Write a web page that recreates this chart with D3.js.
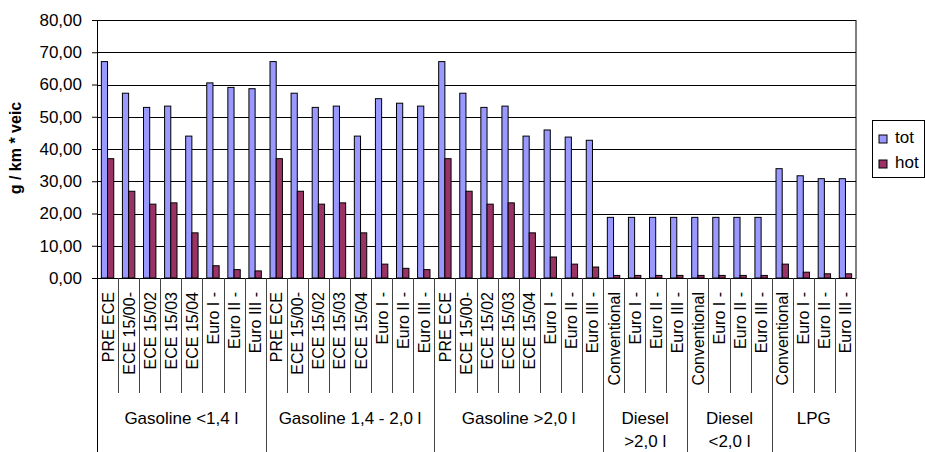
<!DOCTYPE html>
<html>
<head>
<meta charset="utf-8">
<script src="https://cdn.jsdelivr.net/npm/d3@7"></script>
<style>
  body { margin: 0; background: #fff; }
  text { font-family: "Liberation Sans", Arial, sans-serif; fill: #000; }
</style>
</head>
<body>
<div id="chart"></div>
<script>
// groups along the x axis (label lines) and their sub categories
var groupLabels = [["Gasoline <1,4 l"], ["Gasoline 1,4 - 2,0 l"], ["Gasoline >2,0 l"],
                   ["Diesel", ">2,0 l"], ["Diesel", "<2,0 l"], ["LPG"]];
var gasolineSubs = ["PRE ECE", "ECE 15/00-", "ECE 15/02", "ECE 15/03", "ECE 15/04", "Euro I -", "Euro II -", "Euro III -"];
var dieselSubs = ["Conventional", "Euro I -", "Euro II -", "Euro III -"];
var subLabels = [gasolineSubs, gasolineSubs, gasolineSubs, dieselSubs, dieselSubs, dieselSubs];

var seriesNames = ["tot", "hot"];
var seriesColors = ["#9999ff", "#993366"];

var totValues = [67.1, 57.3, 52.9, 53.3, 44.0, 60.5, 59.1, 58.7,
                 67.1, 57.3, 52.9, 53.3, 44.0, 55.6, 54.2, 53.3,
                 67.1, 57.3, 52.9, 53.3, 44.0, 45.9, 43.7, 42.7,
                 18.8, 18.8, 18.8, 18.8,
                 18.8, 18.8, 18.8, 18.8,
                 33.9, 31.7, 30.8, 30.8];
var hotValues = [37.0, 26.9, 22.9, 23.3, 14.0, 3.8, 2.6, 2.2,
                 37.0, 26.9, 22.9, 23.3, 14.0, 4.3, 3.0, 2.6,
                 37.0, 26.9, 22.9, 23.3, 14.0, 6.5, 4.3, 3.4,
                 0.8, 0.8, 0.8, 0.8,
                 0.8, 0.8, 0.8, 0.8,
                 4.3, 1.8, 1.3, 1.3];
var yTicks = [0, 10, 20, 30, 40, 50, 60, 70, 80];
var yTitle = "g / km * veic";

var margin = {top: 20, left: 97},
    width = 759,
    height = 258;

var svg = d3.select("#chart").append("svg")
    .attr("width", 925)
    .attr("height", 452);

var g = svg.append("g")
    .attr("transform", "translate(" + margin.left + "," + margin.top + ")");

// build the flat list of categories
var cats = [];
subLabels.forEach(function(subs, gi) {
    subs.forEach(function(s) {
        cats.push({group: gi, label: s, idx: cats.length});
    });
});
cats.forEach(function(c, i) { c.tot = totValues[i]; c.hot = hotValues[i]; });

var x = d3.scaleBand()
    .domain(cats.map(function(d) { return d.idx; }))
    .range([0, width])
    .padding(0);

var x1 = d3.scaleBand()
    .domain(seriesNames)
    .range([0, x.bandwidth()])
    .paddingInner(0)
    .paddingOuter(0.7);

var y = d3.scaleLinear()
    .domain([0, 80])
    .range([height, 0]);

// grid lines
g.append("g")
    .selectAll("line")
    .data(yTicks)
    .enter()
    .append("line")
    .attr("x1", 0)
    .attr("x2", width)
    .attr("y1", function(d) { return Math.round(y(d)) + 0.5; })
    .attr("y2", function(d) { return Math.round(y(d)) + 0.5; })
    .attr("stroke", "#000")
    .attr("stroke-width", 1);

// y axis
var yAxis = g.append("g")
    .call(d3.axisLeft(y)
        .tickValues(yTicks)
        .tickSize(5)
        .tickPadding(10)
        .tickFormat(function(d) { return d3.format(".2f")(d).replace(".", ","); }));
yAxis.select(".domain").remove();
yAxis.selectAll("line").attr("stroke", "#000");
yAxis.selectAll("text")
    .attr("font-size", "17px")
    .attr("font-family", "Liberation Sans, Arial, sans-serif")
    .attr("fill", "#000");

// y title
svg.append("text")
    .attr("transform", "translate(21,148) rotate(-90)")
    .attr("text-anchor", "middle")
    .attr("font-weight", "bold")
    .attr("font-size", "16px")
    .text(yTitle);

// bars
var catG = g.append("g")
    .selectAll("g")
    .data(cats)
    .enter()
    .append("g")
    .attr("transform", function(d) { return "translate(" + x(d.idx) + ",0)"; });

catG.selectAll("rect")
    .data(function(d) { return seriesNames.map(function(s) { return {key: s, value: d[s]}; }); })
    .enter()
    .append("rect")
    .attr("x", function(d) { return x1(d.key); })
    .attr("y", function(d) { return y(d.value); })
    .attr("width", x1.bandwidth())
    .attr("height", function(d) { return height - y(d.value); })
    .attr("fill", function(d) { return seriesColors[seriesNames.indexOf(d.key)]; })
    .attr("stroke", "#000")
    .attr("stroke-width", 1);

// plot border (left / right / top)
g.append("rect")
    .attr("x", 0.5)
    .attr("y", 0.5)
    .attr("width", width - 0.5)
    .attr("height", height)
    .attr("fill", "none")
    .attr("stroke", "#000")
    .attr("stroke-width", 1);

// category labels (rotated)
g.append("g")
    .selectAll("text")
    .data(cats)
    .enter()
    .append("text")
    .attr("transform", function(d) {
        return "translate(" + (x(d.idx) + x.bandwidth() / 2 + 6) + "," + (height + 14) + ") rotate(-90)";
    })
    .attr("text-anchor", "end")
    .attr("font-size", "16px")
    .text(function(d) { return d.label; });

// separators under the axis
var groupStart = [];
cats.forEach(function(c, i) { if (i === 0 || cats[i - 1].group !== c.group) groupStart.push(i); });

g.append("g")
    .selectAll("line")
    .data(cats.filter(function(c, i) { return groupStart.indexOf(i) < 0; }))
    .enter()
    .append("line")
    .attr("x1", function(d) { return Math.round(x(d.idx)) + 0.5; })
    .attr("x2", function(d) { return Math.round(x(d.idx)) + 0.5; })
    .attr("y1", height)
    .attr("y2", height + 115)
    .attr("stroke", "#444");

var groupEdges = groupStart.concat([cats.length]);
g.append("g")
    .selectAll("line")
    .data(groupEdges)
    .enter()
    .append("line")
    .attr("x1", function(d) { return d === cats.length ? width - 0.5 : Math.round(x(d)) + 0.5; })
    .attr("x2", function(d) { return d === cats.length ? width - 0.5 : Math.round(x(d)) + 0.5; })
    .attr("y1", height)
    .attr("y2", 452 - margin.top)
    .attr("stroke", function(d, i) { return i === 0 ? "#000" : "#444"; });

// group labels
var groupG = g.append("g")
    .selectAll("text")
    .data(groupLabels)
    .enter()
    .append("text")
    .attr("text-anchor", "middle")
    .attr("font-size", "17px")
    .attr("x", function(d, i) {
        var a = groupEdges[i], b = groupEdges[i + 1];
        return (x(a) + (b === cats.length ? width : x(b))) / 2;
    })
    .attr("y", height + 146);

groupG.selectAll("tspan")
    .data(function(d) { return d; })
    .enter()
    .append("tspan")
    .attr("x", function() { return d3.select(this.parentNode).attr("x"); })
    .attr("dy", function(d, i) { return i === 0 ? 0 : 23; })
    .text(function(d) { return d; });

// legend
var legend = svg.append("g").attr("transform", "translate(872,120)");
legend.append("rect")
    .attr("x", 0.5)
    .attr("y", 0.5)
    .attr("width", 52)
    .attr("height", 57)
    .attr("fill", "#fff")
    .attr("stroke", "#000");
var items = legend.selectAll("g.item")
    .data(seriesNames)
    .enter()
    .append("g")
    .attr("class", "item")
    .attr("transform", function(d, i) { return "translate(7," + (15 + i * 25) + ")"; });
items.append("rect")
    .attr("width", 8)
    .attr("height", 8)
    .attr("fill", function(d, i) { return seriesColors[i]; })
    .attr("stroke", "#000");
items.append("text")
    .attr("x", 16)
    .attr("y", 8)
    .attr("font-size", "17px")
    .text(function(d) { return d; });
</script>
</body>
</html>
